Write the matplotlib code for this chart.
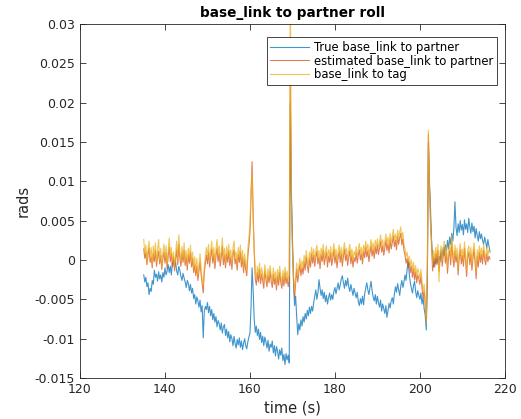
import numpy as np
import matplotlib
matplotlib.use('Agg')
import matplotlib.pyplot as plt

# time base (s), one sample every 0.25 s
t = np.arange(135.0, 216.51, 0.25)

# values, in milliradians (x 1e-3 when plotted)
# one row per 5 s block
true_roll = [
    -1.9, -2.8, -2.2, -3.4, -2.9, -4.4, -3.6, -4.0, -2.6, -3.1, -1.3, -2.2, -1.8, -2.7, -1.5, -2.4, -1.9, -2.8, -1.6, -2.2,
    -1.0, -1.9, -1.4, -0.6, -1.6, -0.8, -1.9, -0.3, 0.1, -0.9, -0.3, -1.4, -1.9, -0.8, -1.3, -2.1, -2.6, -1.7, -2.3, -2.8,
    -3.5, -2.6, -3.0, -3.9, -3.1, -4.2, -3.6, -4.9, -4.4, -5.6, -4.7, -5.2, -6.0, -5.1, -6.6, -5.8, -9.9, -6.6, -5.9, -6.3,
    -5.4, -6.7, -5.9, -7.1, -6.3, -7.6, -6.8, -7.9, -7.2, -8.5, -7.7, -8.1, -8.9, -8.0, -9.3, -8.5, -8.2, -9.6, -8.8, -9.9,
    -9.1, -10.4, -9.5, -10.0, -10.9, -9.7, -10.6, -11.2, -10.1, -10.8, -9.9, -11.1, -10.3, -11.4, -10.6, -10.0, -10.9, -11.3, -10.4, -9.8,
    -9.3, -6.0, -1.0, -3.8, -7.5, -9.2, -8.4, -9.6, -8.8, -10.1, -9.2, -10.5, -9.7, -10.9, -9.8, -10.4, -11.2, -10.2, -11.6, -10.7,
    -11.1, -10.3, -11.8, -10.9, -12.2, -11.0, -11.6, -12.6, -11.4, -12.1, -11.2, -12.8, -12.0, -13.3, -11.9, -12.7, -12.1, -13.1, 20.0, 8.0,
    3.0, -2.5, -5.8, -4.6, -7.2, -9.5, -8.1, -8.9, -7.6, -8.4, -7.2, -7.9, -6.8, -7.5, -6.4, -7.1, -6.0, -6.8, -5.9, -6.5,
    -5.4, -4.6, -3.8, -5.0, -4.2, -2.5, -3.6, -4.5, -3.8, -4.9, -4.1, -5.3, -4.5, -5.6, -4.8, -4.2, -5.1, -4.4, -5.0, -4.0,
    -3.5, -4.3, -3.6, -2.9, -3.8, -3.2, -2.4, -2.0, -2.9, -3.6, -2.6, -3.3, -2.3, -3.4, -4.0, -3.1, -3.8, -4.5, -3.6, -4.2,
    -4.8, -4.1, -5.3, -5.8, -4.9, -5.6, -4.6, -5.7, -4.3, -3.6, -2.9, -3.8, -4.4, -3.5, -2.7, -3.9, -4.7, -5.2, -4.4, -5.6,
    -4.6, -5.4, -6.0, -5.1, -6.5, -5.6, -6.2, -6.8, -5.8, -7.3, -6.4, -5.5, -6.1, -5.2, -4.8, -5.6, -4.3, -3.4, -4.1, -3.0,
    -3.8, -4.5, -3.3, -2.6, -3.5, -2.8, -1.9, -2.6, -1.2, 0.0, -1.8, -2.9, -3.6, -4.2, -3.3, -2.7, -4.0, -4.8, -3.9, -4.5,
    -5.0, -4.2, -5.6, -4.7, -6.2, -7.0, -8.9, -3.0, 14.9, 9.5, 6.5, 2.5, 0.6, -0.9, 0.2, -0.5, 0.8, -0.4, 0.5, -0.2,
    1.2, 0.3, 1.6, 0.6, 1.9, 1.1, 2.5, 1.4, 2.9, 2.0, 3.4, 2.4, 4.0, 7.4, 4.2, 3.1, 4.6, 3.5, 5.0, 3.8,
    4.5, 3.2, 5.1, 3.9, 4.6, 3.5, 5.3, 4.2, 3.4, 4.7, 3.6, 4.3, 2.8, 4.0, 3.1, 2.4, 3.6, 2.7, 3.3, 2.5,
    2.0, 2.9, 2.3, 1.5, 2.6, 1.8, 1.1,
]

est_roll = [
    1.4, 0.2, 1.0, -0.6, 0.6, 1.5, -0.3, 0.4, -1.0, 0.8, -0.2, 1.2, -0.8, 0.3, 1.1, -0.5, 0.6, -1.2, 0.2, 1.0,
    -0.4, 0.9, -1.1, 0.5, 1.6, -0.2, 0.8, -0.9, 0.4, -1.4, 0.1, 1.3, -0.6, 2.0, 0.2, -0.8, 0.9, -0.3, 1.2, -0.7,
    0.4, -1.3, 0.7, -0.4, 1.0, -0.9, 0.2, -1.6, -0.6, -2.0, -0.8, -2.6, -1.4, -0.2, -1.8, -3.0, -4.2, -1.6, -0.4, 0.6,
    -0.5, 1.0, -0.9, 0.4, 1.4, -0.4, 0.7, -1.1, 0.5, 1.5, -0.2, 0.9, -0.8, 0.3, 1.7, -0.6, 0.6, -1.0, 0.8, -0.3,
    1.1, -0.7, 0.4, -1.2, 0.6, 1.3, -0.5, 0.2, -1.3, 0.7, -0.3, 1.0, -0.9, 0.4, -1.6, 0.0, -1.2, -2.0, 0.5, 1.8,
    3.5, 8.0, 12.5, 6.0, 1.0, -2.4, -3.2, -1.6, -2.8, -1.2, -3.0, -1.8, -2.6, -3.6, -1.4, -2.4, -3.4, -1.9, -2.9, -1.5,
    -2.7, -3.5, -1.8, -3.1, -2.3, -3.8, -2.0, -3.2, -1.6, -2.8, -3.6, -2.1, -3.3, -1.7, -3.0, -2.2, -3.4, -2.6, 22.5, 9.0,
    2.0, -2.6, -4.8, -3.0, -1.2, -2.8, -1.6, -0.6, -2.0, -0.9, -1.8, -0.2, -1.3, 0.4, -0.8, -1.6, 0.2, -0.9, 0.8, -0.4,
    0.6, -0.8, 0.3, 1.1, -0.5, 0.4, -1.1, 0.7, -0.2, 1.2, -0.6, 0.3, 1.0, -0.9, 0.5, -0.3, 0.9, -0.7, 0.2, 1.3,
    -0.4, 0.6, -1.0, 0.3, 1.1, -0.3, 0.8, -0.8, 0.5, 1.4, -0.1, 0.7, -0.7, 0.4, 1.2, -0.5, 0.6, -0.9, 0.3, -0.2,
    0.9, -0.4, 0.6, 1.3, 0.0, 0.8, -0.5, 1.1, 0.3, 1.6, 0.4, 1.2, -0.2, 0.9, 1.8, 0.5, 1.4, 0.2, 1.7, 0.8,
    1.9, 0.7, 1.5, 2.4, 1.0, 1.8, 0.6, 1.6, 2.5, 1.2, 2.1, 0.9, 2.6, 1.4, 2.2, 3.1, 1.7, 2.5, 1.3, 3.0,
    2.0, 2.8, 3.4, 1.9, 2.7, 1.2, 0.6, -0.4, 0.2, -1.0, -0.3, -1.6, -0.8, -2.2, -1.1, -2.5, -1.5, -2.9, -1.9, -2.4,
    -3.1, -2.0, -3.6, -4.8, -3.9, -5.6, -7.8, -2.0, 16.0, 10.5, 5.0, 1.6, -1.4, 0.4, -0.9, 0.8, -0.6, 1.2, -1.5, 0.2,
    1.0, -0.8, 0.5, 1.6, -0.4, 0.9, -1.7, 0.3, 1.2, -0.6, 2.3, 0.4, -0.9, 1.1, -0.3, 0.7, -1.9, 0.2, 1.3, -0.5,
    0.6, -0.8, 1.5, -0.2, -2.1, 0.4, 1.0, -0.6, 0.8, -1.3, 0.3, 1.4, -0.4, -2.4, 0.5, -0.9, 1.0, -0.3, 0.7, -0.5,
    1.2, 0.1, -0.6, 0.8, -0.2, 0.5, 0.1,
]

tag_roll = [
    2.6, 0.8, 1.9, -0.4, 1.4, 2.4, 0.2, 1.6, -0.6, 1.8, 0.4, 2.2, -0.2, 1.2, 2.6, 0.0, 1.5, -0.8, 0.9, 2.0,
    0.3, 1.8, -0.5, 1.1, 2.8, 0.4, 1.6, -0.3, 1.0, -0.9, 0.8, 2.4, 0.0, 3.2, 1.0, -0.2, 1.7, 0.3, 2.2, -0.1,
    1.2, -0.6, 1.5, 0.2, 1.9, -0.3, 1.0, -1.0, 0.4, -1.4, 0.2, -2.0, -0.6, 0.8, -1.2, -2.4, -3.2, -0.8, 0.4, 1.6,
    0.4, 2.0, -0.2, 1.2, 2.4, 0.3, 1.6, -0.4, 1.3, 2.6, 0.6, 1.8, 0.0, 1.1, 2.8, 0.2, 1.5, -0.3, 1.7, 0.5,
    2.0, 0.1, 1.3, -0.5, 1.5, 2.4, 0.3, 1.0, -0.6, 1.6, 0.4, 1.9, -0.2, 1.2, -0.9, 0.8, -0.5, -1.4, 1.4, 2.8,
    4.5, 9.0, 11.0, 5.0, 1.5, -1.6, -2.4, -0.8, -2.0, -0.4, -2.3, -1.0, -1.8, -2.9, -0.6, -1.6, -2.7, -1.1, -2.2, -0.7,
    -1.9, -2.8, -1.0, -2.4, -1.5, -3.1, -1.2, -2.5, -0.8, -2.0, -2.9, -1.3, -2.6, -0.9, -2.3, -1.4, -2.7, -1.8, 38.0, 7.0,
    1.2, -2.0, -4.0, -2.2, -0.4, -2.0, -0.8, 0.2, -1.2, -0.1, -1.0, 0.6, -0.5, 1.2, 0.0, -0.8, 1.0, -0.1, 1.6, 0.4,
    1.4, 0.0, 1.1, 1.9, 0.3, 1.2, -0.3, 1.5, 0.6, 2.0, 0.2, 1.1, 1.8, -0.1, 1.3, 0.5, 1.7, 0.1, 1.0, 2.1,
    0.4, 1.4, -0.2, 1.1, 1.9, 0.5, 1.6, 0.0, 1.3, 2.2, 0.7, 1.5, 0.1, 1.2, 2.0, 0.3, 1.4, -0.1, 1.1, 0.6,
    1.7, 0.4, 1.4, 2.1, 0.8, 1.6, 0.3, 1.9, 1.1, 2.4, 1.2, 2.0, 0.6, 1.7, 2.6, 1.3, 2.2, 1.0, 2.5, 1.6,
    2.7, 1.5, 2.3, 3.2, 1.8, 2.6, 1.4, 2.4, 3.3, 2.0, 2.9, 1.7, 3.4, 2.2, 3.0, 3.9, 2.5, 3.3, 2.1, 3.8,
    2.8, 3.6, 4.2, 2.7, 3.5, 2.0, 1.4, 0.4, 1.0, -0.2, 0.5, -0.8, 0.0, -1.4, -0.3, -1.7, -0.7, -2.1, -1.1, -1.6,
    -2.3, -1.2, -2.8, -4.0, -3.1, -4.8, -8.0, -1.0, 16.5, 9.5, 4.5, 2.4, -0.6, 1.2, -0.1, 1.6, 0.2, 2.0, -2.8, 1.0,
    1.8, 0.0, 1.3, 2.4, 0.4, 1.7, -0.9, 1.1, 2.0, 0.2, 3.1, 1.2, -0.1, 1.9, 0.5, 1.5, -1.1, 1.0, 2.1, 0.3,
    1.4, 0.0, 2.3, 0.6, -1.3, 1.2, 1.8, 0.2, 1.6, -0.5, 1.1, 2.2, 0.4, -1.6, 1.3, -0.1, 1.8, 0.5, 1.5, 0.3,
    2.0, 0.9, 0.2, 1.6, 0.6, 1.3, 0.9,
]

labels = ['True base_link to partner', 'estimated base_link to partner', 'base_link to tag']
colors = ['#0072BD', '#D95319', '#EDB120']
AX_COLOR = '#262626'

plt.rcParams['font.family'] = 'DejaVu Sans'

fig = plt.figure(figsize=(5.21, 4.19), dpi=100)
ax = fig.add_axes([0.1536, 0.0979, 0.8154, 0.8448])

for y, c, lab in zip([true_roll, est_roll, tag_roll], colors, labels):
    ax.plot(t, np.array(y) * 1e-3, color=c, linewidth=0.8, alpha=0.75, label=lab)

ax.set_xlim(120, 220)
ax.set_ylim(-0.015, 0.03)
ax.set_xticks(np.arange(120, 221, 20))
ax.set_yticks(np.arange(-0.015, 0.0301, 0.005))
ax.set_yticklabels(['-0.015', '-0.01', '-0.005', '0', '0.005', '0.01',
                    '0.015', '0.02', '0.025', '0.03'])

ax.set_title('base_link to partner roll', fontsize=9.8, fontweight='bold', color='black', pad=5)
ax.set_xlabel('time (s)', fontsize=10.5, color=AX_COLOR, labelpad=3)
ax.set_ylabel('rads', fontsize=10.5, color=AX_COLOR, labelpad=3)

for s in ax.spines.values():
    s.set_linewidth(0.6)
    s.set_color(AX_COLOR)
ax.tick_params(axis='both', which='major', direction='in', length=4, width=0.6,
               colors=AX_COLOR, labelsize=9, top=True, right=True)

leg = ax.legend(loc='upper right', bbox_to_anchor=(0.982, 0.962), fontsize=8.4,
                frameon=True, framealpha=1, edgecolor=AX_COLOR, fancybox=False,
                handlelength=3.3, borderpad=0.3, labelspacing=0.05, handletextpad=0.5,
                borderaxespad=0)
leg.get_frame().set_linewidth(0.6)

fig.savefig('out.png', dpi=100)
